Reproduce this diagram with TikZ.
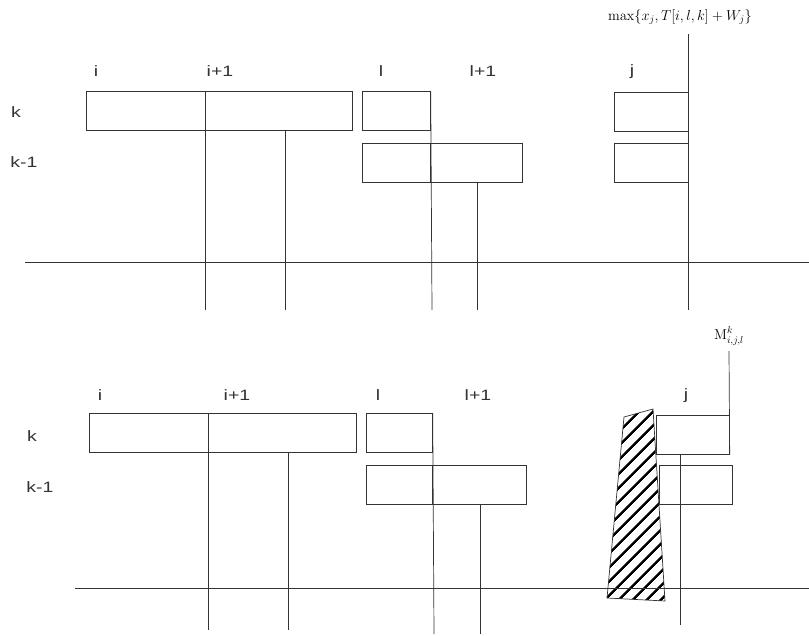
\documentclass[tikz,border=0pt]{standalone}
\usepackage{amsmath}
\usepackage[no-math]{fontspec}
\newfontfamily\labelfont[FakeStretch=1.3]{Liberation Sans}
\usetikzlibrary{patterns.meta}

\tikzset{
  cell/.style={draw, rectangle, anchor=north west, inner sep=0pt, minimum height=39pt},
  lbl/.style={inner sep=0pt, font=\labelfont\fontsize{15}{17}\selectfont},
  mlbl/.style={inner sep=0pt, font=\fontsize{14}{16}\selectfont},
  hatch/.style={draw, pattern={Lines[angle=45, distance=10.5pt, line width=2.6pt]}},
}

\begin{document}
\begin{tikzpicture}[x=1pt, y=-1pt, black!80, line width=0.7pt]
  \useasboundingbox (0,0) rectangle (809,636);

  % top diagram: labels
  \node[lbl] (ti) at (96,71) {i};
  \node[lbl] (tii) at (220,71) {i+1};
  \node[lbl] (tl) at (381,71) {l};
  \node[lbl] (tll) at (483,71) {l+1};
  \node[lbl] (tj) at (632,72) {j};
  \node[lbl] (tk) at (16,112) {k};
  \node[lbl] (tkm) at (24,162) {k-1};
  \node[mlbl, black] (tmax) at (680,17) {$\max\{x_j, T[i,l,k]+W_j\}$};

  % top diagram: cells
  \node[cell, minimum width=119pt] (tki) at (86,91) {};
  \node[cell, minimum width=147pt] (tkii) at (205,91) {};
  \node[cell, minimum width=68pt] (tkl) at (362,91) {};
  \node[cell, minimum width=74pt] (tkj) at (614,92) {};
  \node[cell, minimum width=68pt] (tml) at (362,143) {};
  \node[cell, minimum width=92pt] (tmll) at (430,143) {};
  \node[cell, minimum width=74pt] (tmj) at (614,143) {};

  % top diagram: time axis and columns
  \coordinate (tax0) at (25,262);
  \coordinate (tax1) at (809,262);
  \draw (tax0) -- (tax1);
  \coordinate (tc1) at (205,310);
  \coordinate (tc2a) at (285,130);
  \coordinate (tc2) at (285,310);
  \coordinate (tc3) at (432,310);
  \coordinate (tc4a) at (477,182);
  \coordinate (tc4) at (477,310);
  \coordinate (tc5a) at (688,34);
  \coordinate (tc5) at (688,310);
  \draw (tkii.north west) -- (tc1);
  \draw (tc2a) -- (tc2);
  \draw (tkl.north east) -- (tc3);
  \draw (tc4a) -- (tc4);
  \draw (tc5a) -- (tc5);

  % bottom diagram: labels
  \node[lbl] (bi) at (100,395) {i};
  \node[lbl] (bii) at (237,395) {i+1};
  \node[lbl] (bl) at (378,395) {l};
  \node[lbl] (bll) at (478,395) {l+1};
  \node[lbl] (bj) at (686,396) {j};
  \node[lbl] (bk) at (32,436) {k};
  \node[lbl] (bkm) at (40,487) {k-1};
  \node[mlbl, black] (bm) at (729,336) {$\mathrm{M}^{k}_{i,j,l}$};

  % bottom diagram: cells
  \node[cell, minimum width=119pt] (bki) at (89,413) {};
  \node[cell, minimum width=148pt] (bkii) at (208,413) {};
  \node[cell, minimum width=66pt] (bkl) at (366,413) {};
  \node[cell, minimum width=73pt] (bkj) at (656,415) {};
  \node[cell, minimum width=66pt] (bml) at (366,465) {};
  \node[cell, minimum width=94pt] (bmll) at (432,465) {};
  \node[cell, minimum width=73pt] (bmj) at (659,465) {};

  % bottom diagram: shaded block
  \draw[hatch] (624,417) -- (653,409) -- (665,601) -- (607,598) -- cycle;

  % bottom diagram: time axis and columns
  \coordinate (bax0) at (75,588);
  \coordinate (bax1) at (809,588);
  \draw (bax0) -- (bax1);
  \coordinate (bc1) at (208,630);
  \coordinate (bc2a) at (288,452);
  \coordinate (bc2) at (288,630);
  \coordinate (bc3) at (434,634);
  \coordinate (bc4a) at (480,504);
  \coordinate (bc4) at (480,634);
  \coordinate (bc5a) at (680,454);
  \coordinate (bc5) at (680,625);
  \coordinate (bm0) at (729,351);
  \draw (bkii.north west) -- (bc1);
  \draw (bc2a) -- (bc2);
  \draw (bkl.north east) -- (bc3);
  \draw (bc4a) -- (bc4);
  \draw (bc5a) -- (bc5);
  \draw (bm0) -- (bkj.south east);

\end{tikzpicture}
\end{document}
